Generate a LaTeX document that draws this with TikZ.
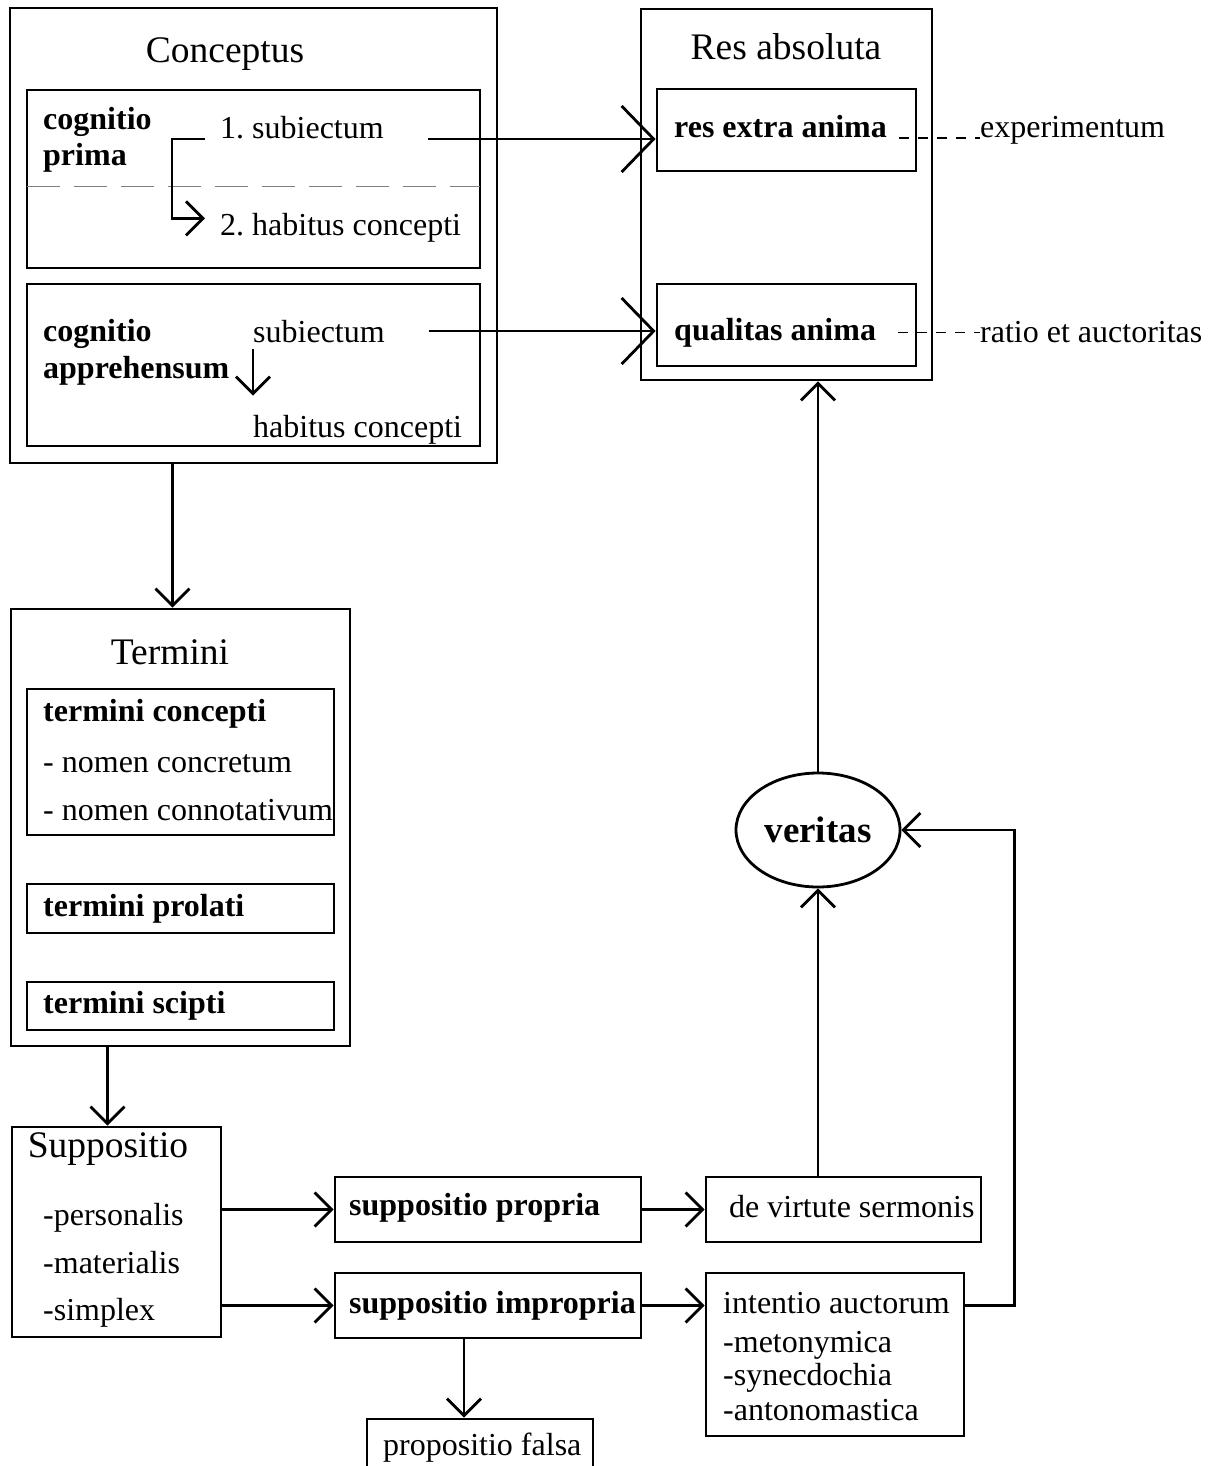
\documentclass[tikz,border=0pt]{standalone}
\usepackage{fontspec}
\setmainfont{Liberation Serif}
\usetikzlibrary{arrows.meta,shapes.geometric,fit}
\frenchspacing
\tikzstyle{kasten} = [draw, line width=2.8pt, inner sep=0pt]
\tikzstyle{schrift} = [inner sep=0pt, anchor=base west, font=\fontsize{32}{38}\selectfont]
\tikzstyle{fett} = [schrift, font=\fontsize{32}{38}\selectfont\bfseries]
\tikzstyle{titel} = [inner sep=0pt, font=\fontsize{37.5}{44}\selectfont]
\tikzstyle{pfeil} = [line width=2.8pt, -{Straight Barb[length=17pt,width=34pt]}]
\tikzstyle{pfeilgross} = [line width=2.8pt, -{Straight Barb[length=32pt,width=66pt]}]
\tikzstyle{gestrichelt} = [line width=1.2pt, dash pattern=on 10pt off 9pt]
\tikzstyle{trenner} = [line width=1pt, gray, dash pattern=on 33pt off 14pt]
\begin{document}
\begin{tikzpicture}[x=1pt, y=-1pt]
	\useasboundingbox (0,0) rectangle (1218,1466);
	\node[kasten, fit={(10,8) (497,463)}] (conceptus) {};
	\node[titel] (tconceptus) at (225,54) {Conceptus};
	\node[kasten, fit={(27,90) (480,268)}] (prima) {};
	\draw[trenner] (27,187) -- (480,187);
	\node[fett] (cognitio1) at (43,130) {cognitio};
	\node[fett] (prima1) at (43,166) {prima};
	\node[schrift] (subiectum1) at (220,139) {1. subiectum};
	\node[schrift] (habitus1) at (220,235) {2. habitus concepti};
	\node[kasten, fit={(27,284) (480,446)}] (apprehensum) {};
	\node[fett] (cognitio2) at (43,341) {cognitio};
	\node[fett] (apprehensum2) at (43,378) {apprehensum};
	\node[schrift] (subiectum2) at (253,342) {subiectum};
	\node[schrift] (habitus2) at (253,437) {habitus concepti};

	\node[kasten, fit={(641,9) (932,380)}] (resabsoluta) {};
	\node[titel] (tresabsoluta) at (786,47) {Res absoluta};
	\node[kasten, fit={(657,89) (916,171)}] (resextra) {};
	\node[fett] (tresextra) at (674,138) {res extra anima};
	\node[kasten, fit={(657,284) (916,366)}] (qualitas) {};
	\node[fett] (tqualitas) at (674,340) {qualitas anima};
	\node[schrift] (experimentum) at (980,138) {experimentum};
	\node[schrift] (ratio) at (980,342) {ratio et auctoritas};

	\node[kasten, fit={(11,609) (350,1046)}] (termini) {};
	\node[titel] (ttermini) at (170,652) {Termini};
	\node[kasten, fit={(27,689) (334,835)}] (concepti) {};
	\node[fett] (tconcepti) at (43,721) {termini concepti};
	\node[schrift] (concretum) at (43,772) {- nomen concretum};
	\node[schrift] (connotativum) at (43,820) {- nomen connotativum};
	\node[kasten, fit={(27,884) (334,933)}] (prolati) {};
	\node[fett] (tprolati) at (43,916) {termini prolati};
	\node[kasten, fit={(27,982) (334,1030)}] (scipti) {};
	\node[fett] (tscipti) at (43,1013) {termini scipti};

	\node[kasten, fit={(12,1127) (221,1337)}] (suppositio) {};
	\node[titel] (tsuppositio) at (108,1149) {Suppositio};
	\node[schrift] (personalis) at (43,1225) {-personalis};
	\node[schrift] (materialis) at (43,1273) {-materialis};
	\node[schrift] (simplex) at (43,1320) {-simplex};
	\node[kasten, fit={(335,1177) (641,1242)}] (propria) {};
	\node[fett] (tpropria) at (349,1215) {suppositio propria};
	\node[kasten, fit={(335,1273) (641,1338)}] (impropria) {};
	\node[fett] (timpropria) at (349,1313) {suppositio impropria};
	\node[kasten, fit={(706,1177) (981,1242)}] (virtute) {};
	\node[schrift] (tvirtute) at (729,1217) {de virtute sermonis};
	\node[kasten, fit={(706,1273) (964,1436)}] (intentio) {};
	\node[schrift] (tintentio) at (723,1313) {intentio auctorum};
	\node[schrift] (metonymica) at (723,1352) {-metonymica};
	\node[schrift] (synecdochia) at (723,1385) {-synecdochia};
	\node[schrift] (antonomastica) at (723,1420) {-antonomastica};
	\node[kasten, fit={(367,1419) (593,1475)}] (falsa) {};
	\node[schrift] (tfalsa) at (383,1455) {propositio falsa};
	\node[draw, ellipse, line width=2.8pt, minimum width=164pt, minimum height=114pt, inner sep=0pt, font=\fontsize{37}{44}\selectfont\bfseries] (veritas) at (818,830) {veritas};

	\draw[pfeil] ([xshift=-15pt]subiectum1.base west) -- ++(-33,0) |- ([xshift=-15pt, yshift=9pt]habitus1.west);
	\draw[pfeil] ([yshift=-6pt]subiectum2.south west) -- ([yshift=19pt]habitus2.north west);
	\draw[pfeilgross] ([xshift=44pt]subiectum1.base east) -- (subiectum1.base east -| resextra.west);
	\draw[pfeilgross] ([xshift=44pt]subiectum2.east) -- (subiectum2.east -| qualitas.west);
	\draw[gestrichelt] ([xshift=12pt]tresextra.base east) -- (experimentum.base west);
	\draw[gestrichelt] ([xshift=22pt]tqualitas.east) -- (tqualitas.east -| ratio.west);
	\draw[pfeil] ([xshift=-8pt]termini.north |- conceptus.south) -- ([xshift=-8pt]termini.north);
	\draw[pfeil] ([xshift=-9pt]suppositio.north |- termini.south) -- ([xshift=-9pt]suppositio.north);
	\draw[pfeil] (suppositio.east |- propria.west) -- (propria.west);
	\draw[pfeil] (suppositio.east |- impropria.west) -- (impropria.west);
	\draw[pfeil] (propria) -- (virtute);
	\draw[pfeil] (impropria.east) -- (impropria.east -| intentio.west);
	\draw[pfeil] ([xshift=-24pt]impropria.south) -- ([xshift=-24pt]impropria.south |- falsa.north);
	\draw[pfeil] (veritas |- virtute.north) -- (veritas.south);
	\draw[pfeil] (veritas.north) -- (veritas |- resabsoluta.south);
	\draw[pfeil] (impropria.east -| intentio.east) -- ++(49,0) |- (veritas.east);
\end{tikzpicture}
\end{document}
